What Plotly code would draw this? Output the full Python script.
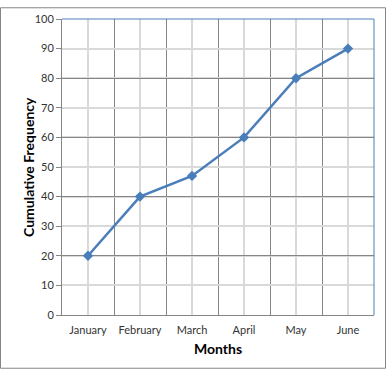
import plotly.graph_objects as go

months = ["January", "February", "March", "April", "May", "June"]
cum_freq = [20, 40, 47, 60, 80, 90]
y_ticks = list(range(0, 101, 10))
y_major = [0, 20, 40, 60, 80, 100]

W, H = 387, 371
L, R, T, B = 62, 13, 12, 56
pw, ph = W - L - R, H - T - B

xs = list(range(len(months)))
font = "Lato, Open Sans, sans-serif"

fig = go.Figure()
fig.add_trace(go.Scatter(
    x=xs, y=cum_freq, mode="lines+markers",
    line=dict(color="#4A7EBB", width=2.5),
    marker=dict(symbol="diamond", size=8, color="#4A7EBB"),
    showlegend=False, cliponaxis=False,
))
# invisible helper trace so the overlay axis (darker 20-step grid) is drawn
fig.add_trace(go.Scatter(x=[None], y=[None], yaxis="y2", showlegend=False, hoverinfo="skip"))

shapes = []
# plot area border (top/right blue)
shapes.append(dict(type="line", xref="paper", yref="paper", x0=0, x1=1, y0=1, y1=1,
                   line=dict(color="#4A7EBB", width=1), layer="above"))
shapes.append(dict(type="line", xref="paper", yref="paper", x0=1, x1=1, y0=0, y1=1,
                   line=dict(color="#4A7EBB", width=1), layer="above"))
# outer chart frame
shapes.append(dict(type="rect", xref="paper", yref="paper",
                   x0=(0.5 - L) / pw, x1=(W - 1.5 - L) / pw,
                   y0=(T + ph - (H - 1.5)) / ph, y1=(T + ph - 0.5) / ph,
                   line=dict(color="#868686", width=1), layer="above"))

fig.update_layout(
    width=W, height=H,
    margin=dict(l=L, r=R, t=T, b=B),
    paper_bgcolor="white", plot_bgcolor="white",
    font=dict(family=font, size=11, color="#333333"),
    shapes=shapes,
    annotations=[dict(
        text="<b>Cumulative Frequency</b>", textangle=-90,
        xref="paper", yref="paper", x=0, y=0.5, xshift=-34,
        xanchor="center", yanchor="middle", showarrow=False,
        font=dict(family=font, size=14, color="#000000"),
    )],
    xaxis=dict(
        range=[-0.5, len(months) - 0.5],
        tickmode="array", tickvals=xs, ticktext=months,
        showgrid=True, gridcolor="#D9D9D9", gridwidth=1.5,
        zeroline=False, showline=True, linecolor="#868686", linewidth=1,
        ticks="", ticklabelstandoff=5,
        minor=dict(tickmode="array", tickvals=[i - 0.5 for i in range(len(months) + 1)],
                   showgrid=True, gridcolor="#868686", gridwidth=1, ticks=""),
        title=dict(text="<b>Months</b>", font=dict(family=font, size=14, color="#000000"), standoff=8),
        fixedrange=True,
    ),
    yaxis=dict(
        range=[0, 100], tickmode="array", tickvals=y_ticks,
        showgrid=True, gridcolor="#D9D9D9", gridwidth=1.5,
        zeroline=False, showline=True, linecolor="#868686", linewidth=1,
        ticks="outside", ticklen=5, tickcolor="#868686",
        fixedrange=True,
    ),
    yaxis2=dict(
        overlaying="y", range=[0, 100], tickmode="array", tickvals=y_major,
        showgrid=True, gridcolor="#868686", gridwidth=1,
        showticklabels=False, ticks="", showline=False, zeroline=False, fixedrange=True,
    ),
)

fig.write_html("out.html")
